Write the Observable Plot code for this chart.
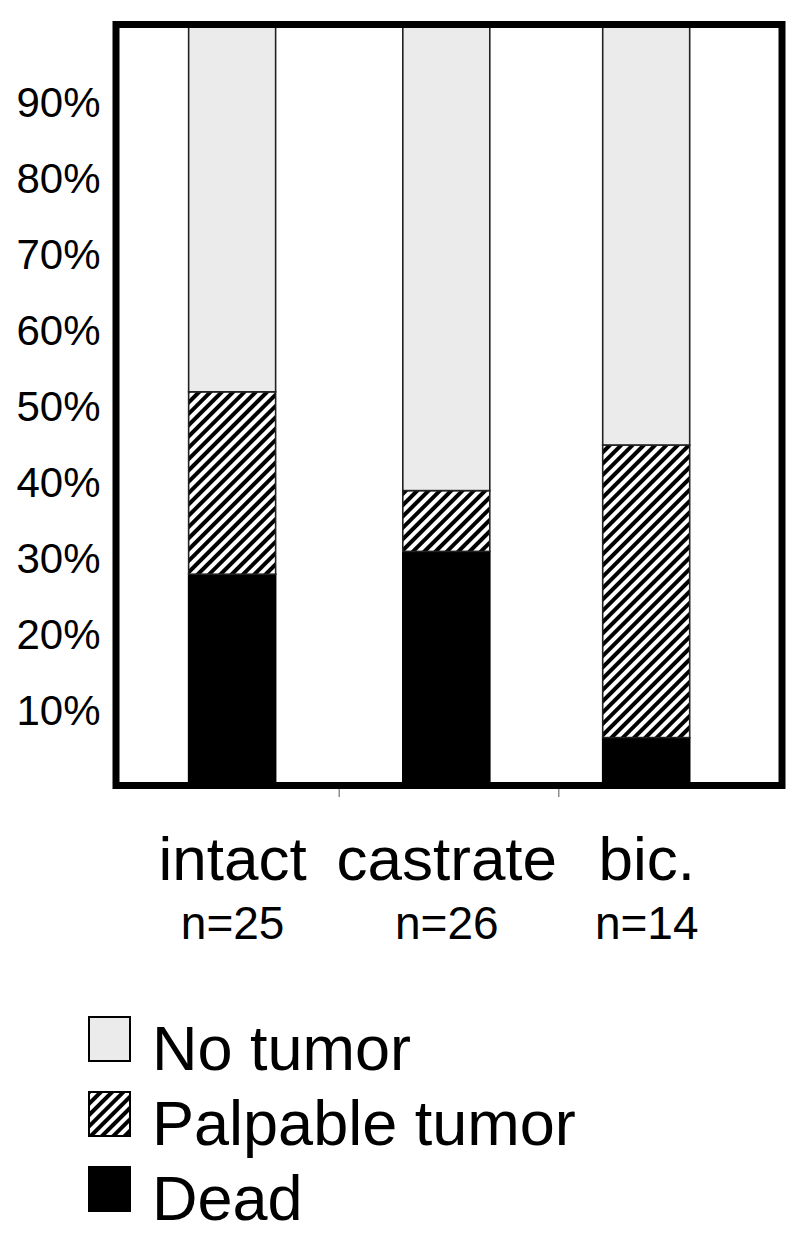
<!DOCTYPE html>
<html>
<head>
<meta charset="utf-8">
<script src="https://cdn.jsdelivr.net/npm/d3@7"></script>
<script src="https://cdn.jsdelivr.net/npm/@observablehq/plot@0.6"></script>
<style>
  html, body { margin: 0; padding: 0; background: #fff; }
  svg { display: block; }
  #legend text { font-family: "Liberation Sans", Arial, sans-serif; }
</style>
</head>
<body>
<div id="chart"></div>
<svg id="legend" width="800" height="263"></svg>
<script>
// ---- data ----
const groups = ["intact", "castrate", "bic."];
const groupN = ["n=25", "n=26", "n=14"];
const groupX = [0.515, 1.49, 2.4];        // position of each group on the x axis (0–3)
const statuses = ["Dead", "Palpable tumor", "No tumor"]; // bottom to top
const dead = [28, 31, 6.5];               // % dead
const palpable = [24, 8, 38.5];           // % palpable tumor
const noTumor = [48, 61, 55];             // % no tumor
const yTicks = [10, 20, 30, 40, 50, 60, 70, 80, 90];
const xTicks = [1, 2];
const statusFills = ["black", "url(#hatch)", "#ebebeb"];

// ---- build table ----
const series = {"Dead": dead, "Palpable tumor": palpable, "No tumor": noTumor};
const rows = [];
groups.forEach((g, i) => {
  let acc = 0;
  statuses.forEach(s => {
    const v = series[s][i];
    rows.push({group: g, x: groupX[i], status: s, y1: acc, y2: acc + v});
    acc += v;
  });
});
const labels = groups.map((g, i) => ({group: g, n: groupN[i], x: groupX[i]}));

const font = '"Liberation Sans", Arial, sans-serif';
const barHalf = 0.198;

const plot = Plot.plot({
  width: 800,
  height: 975,
  marginLeft: 115.5,
  marginRight: 18.5,
  marginTop: 24,
  marginBottom: 190,
  style: {fontFamily: font, background: "white", color: "black"},
  x: {domain: [0, 3], range: [119, 778], label: null},
  y: {domain: [0, 100], range: [787, 27], label: null},
  color: {domain: statuses, range: statusFills},
  marks: [
    Plot.rectY(rows, {
      x1: d => d.x - barHalf,
      x2: d => d.x + barHalf,
      y1: "y1",
      y2: "y2",
      fill: "status",
      stroke: d => d.status === "Dead" ? "black" : "#222",
      strokeWidth: 1.6
    }),
    Plot.axisY({ticks: yTicks, tickSize: 0, tickPadding: 15.5, fontSize: 42,
      tickFormat: d => d + "%", label: null, fill: "black"}),
    Plot.axisX({ticks: xTicks, tickSize: 12, tickFormat: () => "", label: null,
      stroke: "#555", strokeWidth: 1}),
    Plot.text(labels, {x: "x", text: "group", frameAnchor: "bottom", lineAnchor: "bottom",
      dy: 94, fontSize: 62, fill: "black"}),
    Plot.text(labels, {x: "x", text: "n", frameAnchor: "bottom", lineAnchor: "bottom",
      dy: 153, fontSize: 46, fill: "black"}),
    Plot.frame({stroke: "black", strokeWidth: 7})
  ]
});

// hatch pattern definition
const ns = "http://www.w3.org/2000/svg";
function addHatch(svg, id) {
  const defs = document.createElementNS(ns, "defs");
  defs.innerHTML = `<pattern id="${id}" patternUnits="userSpaceOnUse" width="8" height="8" patternTransform="rotate(45)">
      <rect width="8" height="8" fill="white"/>
      <rect width="4" height="8" fill="black"/>
    </pattern>`;
  svg.insertBefore(defs, svg.firstChild);
}
addHatch(plot, "hatch");
document.getElementById("chart").appendChild(plot);

// ---- legend (below the chart) ----
const legend = document.getElementById("legend");
addHatch(legend, "hatchL");
const legendFills = ["#ebebeb", "url(#hatchL)", "black"];
const legendOrder = ["No tumor", "Palpable tumor", "Dead"];
legendOrder.forEach((s, i) => {
  const top = 42 + i * 75;
  const r = document.createElementNS(ns, "rect");
  r.setAttribute("x", 89); r.setAttribute("y", top);
  r.setAttribute("width", 41); r.setAttribute("height", 44);
  r.setAttribute("fill", legendFills[i]);
  r.setAttribute("stroke", "black"); r.setAttribute("stroke-width", 2);
  legend.appendChild(r);
  const t = document.createElementNS(ns, "text");
  t.setAttribute("x", 152); t.setAttribute("y", top + 53);
  t.setAttribute("font-size", 63);
  t.setAttribute("fill", "black");
  t.textContent = s;
  legend.appendChild(t);
});
</script>
</body>
</html>
